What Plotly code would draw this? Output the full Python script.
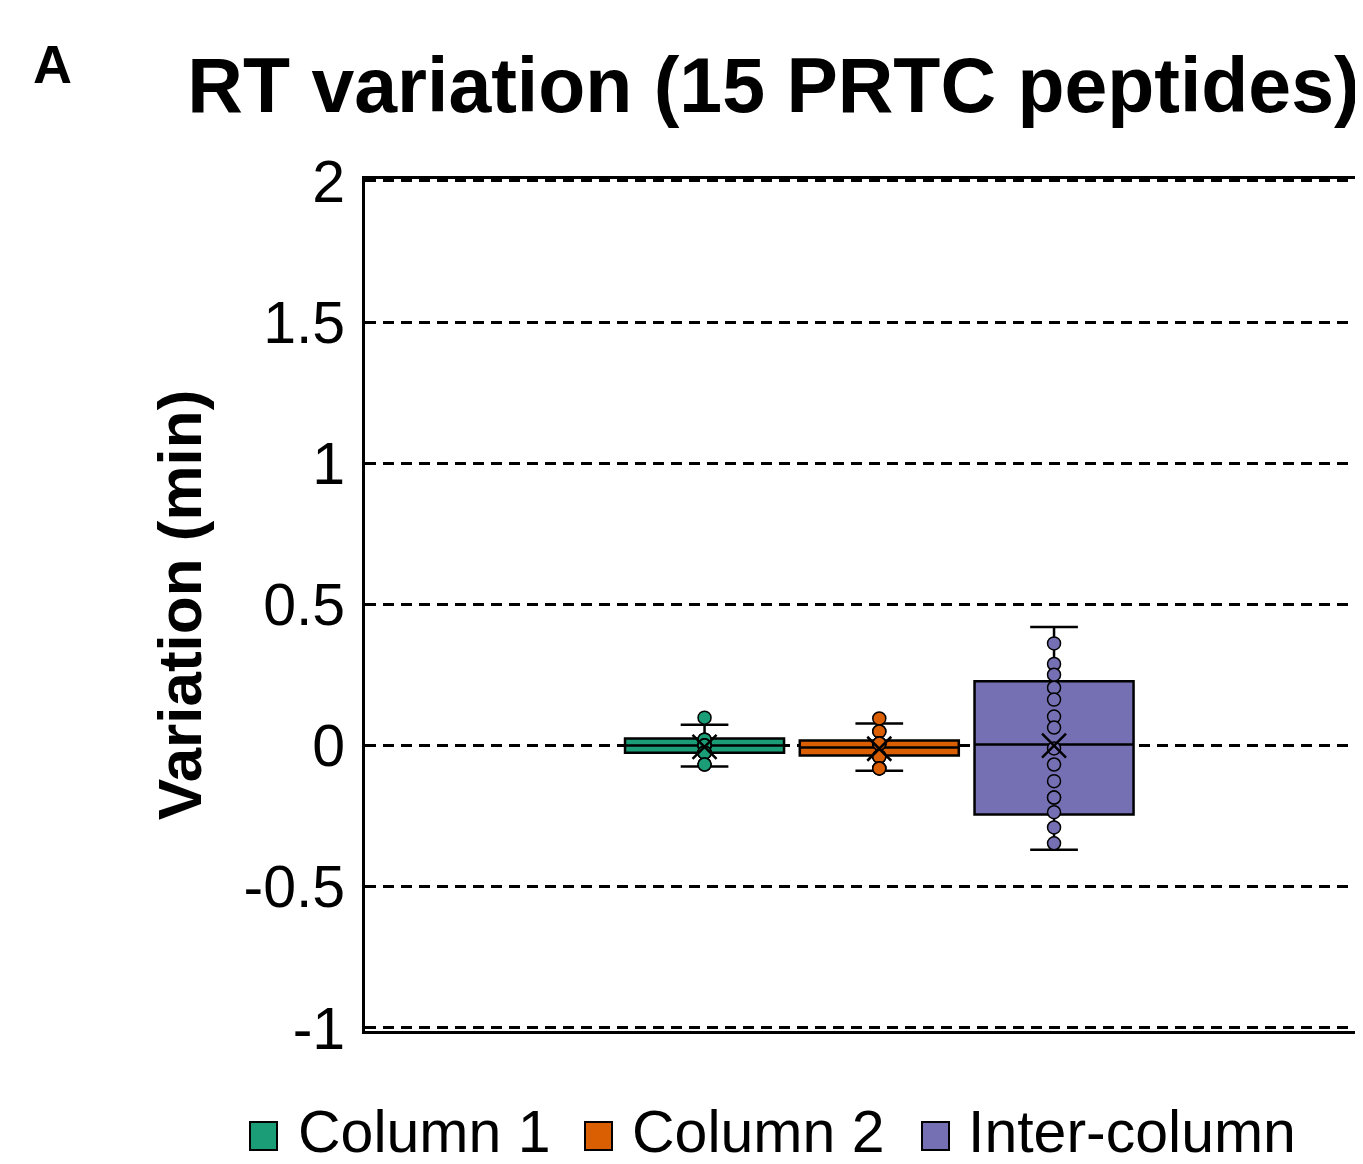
import numpy as np
import plotly.graph_objects as go

# ---- data ----
groups = ["Column 1", "Column 2", "Inter-column"]
positions = [1, 2, 3]
colors = ["#1b9e77", "#d95f02", "#7570b3"]

q1 = [-0.025, -0.035, -0.244]
median = [0.0, -0.007, 0.004]
q3 = [0.025, 0.018, 0.228]
lower_fence = [-0.074, -0.089, -0.369]
upper_fence = [0.074, 0.078, 0.420]

col1_points = [0.099, 0.021, 0.021, 0.021, 0.0, 0.0, 0.0, 0.0, 0.0,
               -0.025, -0.025, -0.025, -0.025, -0.067, -0.067]
col2_points = [0.096, 0.05, 0.05, 0.007, 0.007, 0.007, 0.007, 0.007,
               -0.039, -0.039, -0.039, -0.039, -0.081, -0.081, -0.081]
inter_points = [0.362, 0.289, 0.251, 0.205, 0.163, 0.103, 0.064, -0.184, -0.01,
                -0.067, -0.126, -0.184, -0.236, -0.29, -0.346]
all_points = [col1_points, col2_points, inter_points]

y_ticks = [-1, -0.5, 0, 0.5, 1, 1.5, 2]
y_ticklabels = ["-1", "-0.5", "0", "0.5", "1", "1.5", "2"]

FONT = "Liberation Sans, Arial, sans-serif"

# figure geometry (page has an 8px body margin)
W, H = 1355, 1156
L, R, T, B = 357, 0, 171, 133
PW, PH = W - L - R, H - T - B


def px_x(x):
    return (x - L) / PW


def px_y(y):
    return (H - B - y) / PH


fig = go.Figure()

for i, g in enumerate(groups):
    fig.add_trace(go.Box(
        x=[positions[i]], q1=[q1[i]], median=[median[i]], q3=[q3[i]],
        lowerfence=[lower_fence[i]], upperfence=[upper_fence[i]],
        width=0.91, whiskerwidth=0.3,
        fillcolor=colors[i], line=dict(color="black", width=2.5),
        boxpoints=False, showlegend=False, name=g, hoverinfo="skip",
    ))
    pts = all_points[i]
    fig.add_trace(go.Scatter(
        x=[positions[i]] * len(pts), y=pts, mode="markers",
        marker=dict(size=13, color=colors[i], line=dict(color="black", width=1.5)),
        showlegend=False, hoverinfo="skip",
    ))
    fig.add_trace(go.Scatter(
        x=[positions[i]], y=[float(np.mean(pts))], mode="markers",
        marker=dict(symbol="x-thin", size=24, line=dict(color="black", width=2.5)),
        showlegend=False, hoverinfo="skip",
    ))

# custom legend (squares + labels)
legend_sq_x = [242, 577, 914]
legend_txt_x = [288, 622, 958]
shapes = []
annotations = []
for i, g in enumerate(groups):
    shapes.append(dict(type="rect", xref="paper", yref="paper",
                       x0=px_x(legend_sq_x[i]), x1=px_x(legend_sq_x[i] + 27),
                       y0=px_y(1142), y1=px_y(1114),
                       fillcolor=colors[i], line=dict(color="black", width=2)))
    annotations.append(dict(text=g, xref="paper", yref="paper",
                            x=px_x(legend_txt_x[i]), y=px_y(1124),
                            xanchor="left", yanchor="middle", showarrow=False,
                            font=dict(size=59, family=FONT, color="black")))

annotations.append(dict(text="<b>A</b>", xref="paper", yref="paper",
                        x=px_x(44), y=px_y(56), xanchor="center", yanchor="middle",
                        showarrow=False,
                        font=dict(size=54, family=FONT, color="black")))

fig.update_layout(
    width=W, height=H,
    margin=dict(l=L, r=R, t=T, b=B, autoexpand=False),
    paper_bgcolor="white", plot_bgcolor="white",
    font=dict(family=FONT, color="black"),
    title=dict(text="<b>RT variation (15 PRTC peptides)</b>",
               font=dict(size=77, family=FONT, color="black"),
               x=(773.5 - 8) / W, xanchor="center", xref="container",
               y=1 - 77 / H, yanchor="middle", yref="container"),
    showlegend=False,
    xaxis=dict(range=[-0.943, 4.768], showticklabels=False, showgrid=False,
               zeroline=False, showline=True, mirror=True,
               linecolor="black", linewidth=3, ticks=""),
    yaxis=dict(range=[-1.011, 2.007], tickvals=y_ticks, ticktext=y_ticklabels,
               tickfont=dict(size=59, family=FONT, color="black"),
               showgrid=True, gridcolor="black", gridwidth=2.5, griddash="11px,7px",
               zeroline=False, showline=True, linecolor="black", linewidth=3,
               ticks="", ticklabelstandoff=5,
               title=dict(text="<b>Variation (min)</b>", standoff=22,
                          font=dict(size=62, family=FONT, color="black"))),
    shapes=shapes,
    annotations=annotations,
)

fig.write_html("out.html")
